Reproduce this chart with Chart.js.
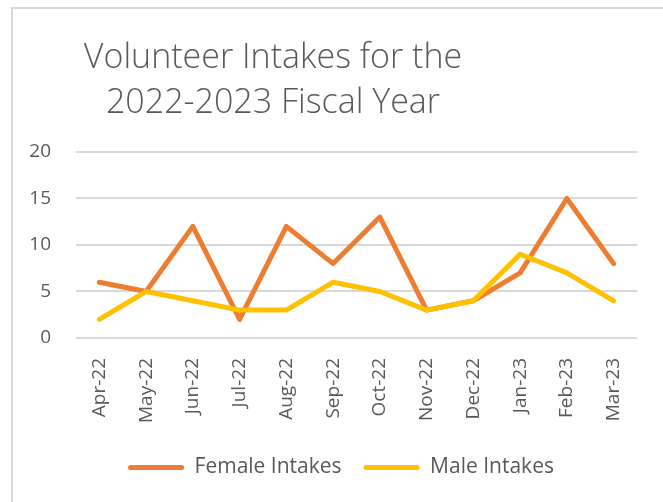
<!DOCTYPE html>
<html>
<head>
<meta charset="utf-8">
<script src="https://cdn.jsdelivr.net/npm/chart.js"></script>
<style>
  html, body { margin: 0; padding: 0; background: #fff; overflow: hidden; }
  #frame {
    position: absolute; left: 11px; top: 7px;
    width: 700px; height: 520px;
    border-left: 2px solid #d9d9d9; border-top: 2px solid #d9d9d9;
  }
  #wrap { position: absolute; left: 0; top: 0; width: 651px; height: 493px; }
</style>
</head>
<body>
<div id="frame"><div id="wrap"><canvas id="grafico"></canvas></div></div>
<script>
const labels = ["Apr-22", "May-22", "Jun-22", "Jul-22", "Aug-22", "Sep-22",
                "Oct-22", "Nov-22", "Dec-22", "Jan-23", "Feb-23", "Mar-23"];
const feminino = [6, 5, 12, 2, 12, 8, 13, 3, 4, 7, 15, 8];
const masculino = [2, 5, 4, 3, 3, 6, 5, 3, 4, 9, 7, 4];
const titulo = ["Volunteer Intakes for the", "2022-2023 Fiscal Year"];

const cinza = "#595959";

// titulo centrado a esquerda, como no grafico original
const tituloPlugin = {
  id: "tituloPlugin",
  afterDraw(chart) {
    const ctx = chart.ctx;
    ctx.save();
    ctx.fillStyle = cinza;
    ctx.font = "300 34px 'Open Sans'";
    ctx.textAlign = "center";
    ctx.textBaseline = "middle";
    ctx.fillText(titulo[0], 260, 49);
    ctx.fillText(titulo[1], 260, 94);
    ctx.restore();
  }
};

// legenda um pouco deslocada para a direita
const legendaPlugin = {
  id: "legendaPlugin",
  afterLayout(chart) {
    chart.legend.left += 10;
    chart.legend.right += 10;
  }
};

new Chart(document.getElementById("grafico"), {
  type: "line",
  data: {
    labels: labels,
    datasets: [{
      label: "Male Intakes",
      data: masculino,
      borderColor: "#FFC000",
      backgroundColor: "#FFC000",
      borderWidth: 5,
      pointRadius: 0,
      borderJoinStyle: "round",
      borderCapStyle: "round"
    }, {
      label: "Female Intakes",
      data: feminino,
      borderColor: "#ED7D31",
      backgroundColor: "#ED7D31",
      borderWidth: 5,
      pointRadius: 0,
      borderJoinStyle: "round",
      borderCapStyle: "round"
    }]
  },
  options: {
    responsive: true,
    maintainAspectRatio: false,
    animation: false,
    layout: { padding: { left: 12, right: 27, top: 143, bottom: 14 } },
    plugins: {
      title: { display: false },
      tooltip: { enabled: false },
      legend: {
        position: "bottom",
        reverse: true,
        labels: {
          boxWidth: 56,
          boxHeight: 5,
          useBorderRadius: true,
          borderRadius: 2.5,
          padding: 22,
          color: cinza,
          font: { family: "'Open Sans'", size: 21 },
          generateLabels(chart) {
            const itens = Chart.defaults.plugins.legend.labels.generateLabels(chart);
            itens.forEach(item => { item.lineWidth = 0; });
            return itens;
          }
        }
      }
    },
    scales: {
      x: {
        offset: true,
        grid: { display: false },
        border: { display: false },
        ticks: {
          minRotation: 90,
          maxRotation: 90,
          padding: 12,
          color: cinza,
          font: { family: "'Open Sans'", size: 19 }
        }
      },
      y: {
        min: 0,
        max: 20,
        afterFit(scale) { scale.width = 51; },
        grid: { color: "#d9d9d9", lineWidth: 2, drawTicks: false },
        border: { display: false },
        ticks: {
          stepSize: 5,
          padding: 25,
          color: cinza,
          font: { family: "'Open Sans'", size: 19 }
        }
      }
    }
  },
  plugins: [tituloPlugin, legendaPlugin]
});
</script>
</body>
</html>
